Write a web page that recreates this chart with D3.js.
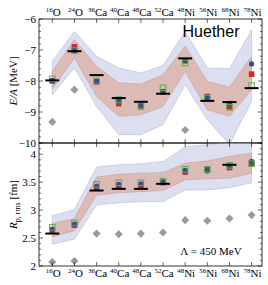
<!DOCTYPE html>
<html>
<head>
<meta charset="utf-8">
<script src="https://cdn.jsdelivr.net/npm/d3@7"></script>
<style>
  body { margin: 0; background: #fff; }
  svg { display: block; }
  .tl { font-family: "Liberation Serif", "DejaVu Serif", serif; font-size: 11px; fill: #000; }
  .cat { font-family: "Liberation Serif", serif; font-size: 11px; fill: #000; }
</style>
</head>
<body>
<div id="chart"></div>
<script>
// nuclei along the x axis
var mass = ["16", "24", "36", "40", "48", "52", "48", "56", "68", "78"];
var elem = ["O", "O", "Ca", "Ca", "Ca", "Ca", "Ni", "Ni", "Ni", "Ni"];

// E/A [MeV]
var eExp = [-7.98, -7.04, -7.81, -8.55, -8.67, -8.41, -7.27, -8.64, -8.68, -8.23];
var eRed = [-8.00, -6.90, -8.03, -8.73, -8.83, -8.35, -7.35, -8.50, -8.83, -7.78];
var eBlue = [-7.98, -7.02, -8.00, -8.62, -8.76, -8.35, -7.33, -8.56, -8.72, -7.45];
var eGreen = [-7.93, -7.02, -8.00, -8.60, -8.80, -8.22, -7.42, -8.55, -8.85, -8.15];
var eDiamond = [-9.32, -8.28, -10.6, -10.6, -10.6, -10.6, -9.58, -10.6, -10.6, -10.6];
var eBlueHi = [-7.37, -6.40, -7.20, -7.58, -7.74, -7.50, -6.40, -7.58, -7.60, -6.35];
var eBlueLo = [-8.44, -7.57, -8.82, -9.73, -9.73, -9.41, -8.12, -9.25, -10.05, -8.66];
var eRedHi = [-7.69, -6.67, -7.53, -8.06, -8.10, -7.80, -6.88, -8.01, -8.20, -7.20];
var eRedLo = [-8.26, -7.25, -8.50, -9.14, -9.09, -8.82, -7.69, -8.93, -9.14, -8.28];

// R_p,rms [fm]
var rExp = [2.58, null, 3.35, 3.38, 3.38, 3.47, null, null, 3.81, null];
var rRed = [2.63, 2.73, 3.40, 3.43, 3.44, 3.49, 3.68, 3.72, 3.76, 3.84];
var rBlue = [2.66, 2.75, 3.43, 3.46, 3.47, 3.51, 3.71, 3.70, 3.79, 3.87];
var rGreen = [2.69, 2.77, 3.46, 3.49, 3.49, 3.52, 3.73, 3.73, 3.80, 3.83];
var rDiamond = [2.07, 2.09, 2.58, 2.57, 2.58, 2.60, 2.82, 2.81, 2.85, 2.91];
var rBlueHi = [2.90, 3.01, 3.77, 3.81, 3.83, 3.87, 4.13, 4.17, 4.22, 4.24];
var rBlueLo = [2.39, 2.48, 3.09, 3.13, 3.15, 3.15, 3.36, 3.36, 3.40, 3.49];
var rRedHi = [2.76, 2.85, 3.59, 3.64, 3.66, 3.67, 3.84, 3.88, 3.96, 4.02];
var rRedLo = [2.52, 2.63, 3.27, 3.31, 3.33, 3.35, 3.54, 3.56, 3.57, 3.66];

var eTicks = [-6, -7, -8, -9, -10];
var rTicks = [4, 3.5, 3, 2.5, 2];

var W = 268, H = 285;
var svg = d3.select("#chart").append("svg").attr("width", W).attr("height", H);

var idx = d3.range(mass.length);
var x = d3.scaleLinear().domain([-0.6, 9.47]).range([39, 262]);
var yTop = d3.scaleLinear().domain([-10, -6]).range([143, 19]);
var yBot = d3.scaleLinear().domain([2, 4.2]).range([266, 143]);

var panels = [
	{ y: yTop, hi: eBlueHi, lo: eBlueLo, rhi: eRedHi, rlo: eRedLo, exp: eExp, red: eRed, blue: eBlue,
	  green: eGreen, dia: eDiamond, ticks: eTicks, minor: 0.2, id: "cTop" },
	{ y: yBot, hi: rBlueHi, lo: rBlueLo, rhi: rRedHi, rlo: rRedLo, exp: rExp, red: rRed, blue: rBlue,
	  green: rGreen, dia: rDiamond, ticks: rTicks, minor: 0.1, id: "cBot" }
];

var defs = svg.append("defs");

panels.forEach(function(p) {
	var r = p.y.range();
	defs.append("clipPath").attr("id", p.id)
		.append("rect")
			.attr("x", x.range()[0]).attr("y", r[1])
			.attr("width", x.range()[1] - x.range()[0]).attr("height", r[0] - r[1]);

	var g = svg.append("g").attr("clip-path", "url(#" + p.id + ")");

	var band = function(hi, lo) {
		return d3.area()
			.x(function(i) { return x(i); })
			.y0(function(i) { return p.y(lo[i]); })
			.y1(function(i) { return p.y(hi[i]); });
	};
	g.append("path").datum(idx)
		.attr("d", band(p.hi, p.lo))
		.attr("fill", "#dcdfef")
		.attr("stroke", "#aeb2cc")
		.attr("stroke-width", 0.5);
	g.append("path").datum(idx)
		.attr("d", band(p.rhi, p.rlo))
		.attr("fill", "#dcbab6")
		.attr("stroke", "#bf9794")
		.attr("stroke-width", 0.5);

	// gray diamonds
	g.selectAll("path.dia").data(idx).enter()
		.append("path")
			.attr("class", "dia")
			.attr("transform", function(i) { return "translate(" + x(i) + "," + p.y(p.dia[i]) + ")"; })
			.attr("d", d3.symbol().type(d3.symbolDiamond2).size(42))
			.attr("fill", "#9a9a9a");

	// red squares
	g.selectAll("rect.red").data(idx).enter()
		.append("rect")
			.attr("class", "red")
			.attr("x", function(i) { return x(i) - 2.8; })
			.attr("y", function(i) { return p.y(p.red[i]) - 2.8; })
			.attr("width", 5.6).attr("height", 5.6)
			.attr("fill", "#c92a35");

	// blue circles
	g.selectAll("circle.blue").data(idx).enter()
		.append("circle")
			.attr("class", "blue")
			.attr("cx", function(i) { return x(i); })
			.attr("cy", function(i) { return p.y(p.blue[i]); })
			.attr("r", 2.6)
			.attr("fill", "#2d4f9e");

	// green open squares
	g.selectAll("rect.green").data(idx).enter()
		.append("rect")
			.attr("class", "green")
			.attr("x", function(i) { return x(i) - 2.8; })
			.attr("y", function(i) { return p.y(p.green[i]) - 2.8; })
			.attr("width", 5.6).attr("height", 5.6)
			.attr("fill", "none")
			.attr("stroke", "#58ad4a")
			.attr("stroke-width", 1);

	// experiment
	g.selectAll("line.exp").data(idx.filter(function(i) { return p.exp[i] != null; })).enter()
		.append("line")
			.attr("class", "exp")
			.attr("x1", function(i) { return x(i) - 7; })
			.attr("x2", function(i) { return x(i) + 7; })
			.attr("y1", function(i) { return p.y(p.exp[i]); })
			.attr("y2", function(i) { return p.y(p.exp[i]); })
			.attr("stroke", "#000")
			.attr("stroke-width", 2);

	// frame and ticks
	var x0 = x.range()[0], x1 = x.range()[1];
	svg.append("rect")
		.attr("x", x0).attr("y", r[1])
		.attr("width", x1 - x0).attr("height", r[0] - r[1])
		.attr("fill", "none").attr("stroke", "#000").attr("stroke-width", 0.8);

	var d = p.y.domain();
	var minors = d3.range(Math.round((d[1] - d[0]) / p.minor) + 1).map(function(k) { return d[0] + k * p.minor; });
	var tk = svg.append("g").attr("stroke", "#000").attr("stroke-width", 0.6);
	minors.forEach(function(v) {
		var major = p.ticks.some(function(t) { return Math.abs(t - v) < 1e-6; });
		var len = major ? 4 : 2;
		tk.append("line").attr("x1", x0).attr("x2", x0 + len).attr("y1", p.y(v)).attr("y2", p.y(v));
		tk.append("line").attr("x1", x1).attr("x2", x1 - len).attr("y1", p.y(v)).attr("y2", p.y(v));
	});
	idx.forEach(function(i) {
		tk.append("line").attr("x1", x(i)).attr("x2", x(i)).attr("y1", r[0]).attr("y2", r[0] - 4);
		tk.append("line").attr("x1", x(i)).attr("x2", x(i)).attr("y1", r[1]).attr("y2", r[1] + 4);
	});

	svg.selectAll(null).data(p.ticks).enter()
		.append("text")
			.attr("class", "tl")
			.attr("x", x0 - 3)
			.attr("y", function(t) { return p.y(t) + 4; })
			.attr("text-anchor", "end")
			.text(function(t) { return String(t).replace("-", "\u2212"); });
});

// category labels top and bottom
[16, 277].forEach(function(yy) {
	var t = svg.selectAll(null).data(idx).enter()
		.append("text")
			.attr("class", "cat")
			.attr("x", function(i) { return x(i) + 1; })
			.attr("y", yy)
			.attr("text-anchor", "middle");
	t.append("tspan").attr("font-size", "7px").attr("dy", -4).text(function(i) { return mass[i]; });
	t.append("tspan").attr("dy", 4).text(function(i) { return elem[i]; });
});

// axis titles
var t1 = svg.append("text")
	.attr("class", "tl")
	.attr("transform", "translate(17," + yTop(-8) + ") rotate(-90)")
	.attr("text-anchor", "middle");
t1.append("tspan").attr("font-style", "italic").text("E/A");
t1.append("tspan").text(" [MeV]");

var t2 = svg.append("text")
	.attr("class", "tl")
	.attr("transform", "translate(17," + yBot(3.1) + ") rotate(-90)")
	.attr("text-anchor", "middle");
t2.append("tspan").attr("font-style", "italic").text("R");
t2.append("tspan").attr("font-size", "8px").attr("dy", 3).text("p, rms");
t2.append("tspan").attr("dy", -3).text(" [fm]");

svg.append("text")
	.attr("x", 211).attr("y", 37)
	.attr("text-anchor", "middle")
	.attr("font-family", "Liberation Sans, Arial, sans-serif")
	.attr("font-size", "16px")
	.text("Huether");

svg.append("text")
	.attr("class", "tl")
	.attr("x", 211).attr("y", 255)
	.attr("text-anchor", "middle")
	.attr("font-size", "12px")
	.text("\u039B = 450 MeV");
</script>
</body>
</html>
